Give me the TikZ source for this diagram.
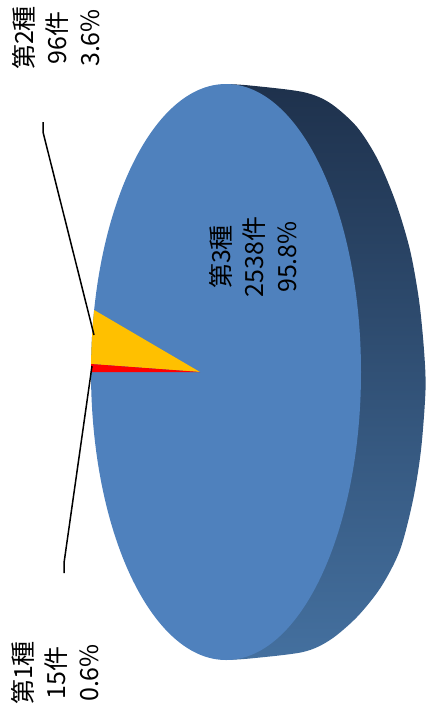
\documentclass[tikz,border=0pt]{standalone}
\usepackage{fontspec}
\setmainfont{Noto Sans CJK JP}
\definecolor{topblue}{HTML}{4F81BD}
\definecolor{sidetop}{HTML}{1E314C}
\definecolor{sidebot}{HTML}{44709F}
\definecolor{slyellow}{HTML}{FFC000}
\definecolor{slred}{HTML}{FF0000}
\begin{document}
\begin{tikzpicture}[x=1pt,y=-1pt,
  lab/.style={rotate=90,align=center,inner sep=0pt,font=\fontsize{25}{33}\selectfont},
  leader/.style={draw=black,line width=1.5pt}]
\useasboundingbox (0,0) rectangle (427,716);
% side of the disc
\shade[top color=sidetop,bottom color=sidebot]
  plot[smooth] coordinates {(226,84) (250,85.5) (303,92) (330,103) (357,127) (378,160) (396,203) (410,250) (419,300) (424,350) (425.5,390) (421,450) (413,500) (400,550) (381,587) (357,617) (330,640) (303,652) (250,658.5) (226,660)}
  -- (226,372) -- cycle;
% top face
\fill[topblue] (226,372) ellipse [x radius=135pt, y radius=288pt];
% slices
\coordinate (apex) at (200,372);
\fill[slyellow] (apex) -- plot[domain=167.57:178.41,variable=\t,samples=20] ({226+135*cos(\t)},{372-288*sin(\t)}) -- cycle;
\fill[slred] (apex) -- plot[domain=178.41:180,variable=\t,samples=6] ({226+135*cos(\t)},{372-288*sin(\t)}) -- cycle;
% labels
\node[lab] (n1) at (55,673) {第1種\\15件\\0.6\%};
\node[lab] (n2) at (56,38) {第2種\\96件\\3.6\%};
\node[lab] (n3) at (253,257) {第3種\\2538件\\95.8\%};
% leader lines
\coordinate (l2a) at (43,122);
\coordinate (l2b) at (43,132);
\coordinate (l2c) at (94,335);
\coordinate (l1a) at (92,366);
\coordinate (l1b) at (64,563);
\coordinate (l1c) at (64,573);
\draw[leader] (l2a) -- (l2b) -- (l2c);
\draw[leader] (l1a) -- (l1b) -- (l1c);
\end{tikzpicture}
\end{document}
